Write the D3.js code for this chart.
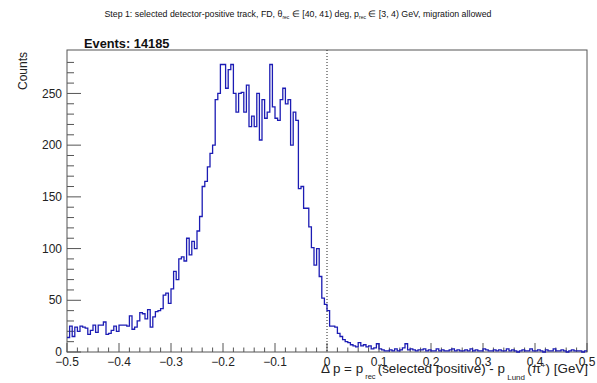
<!DOCTYPE html>
<html>
<head>
<meta charset="utf-8">
<script src="https://cdn.jsdelivr.net/npm/d3@7"></script>
<style>
  body { margin: 0; background: #fff; }
  svg { display: block; font-family: 'Liberation Sans', Arial, Helvetica, sans-serif; }
</style>
</head>
<body>
<div id="chart"></div>
<script>
// histogram binning: 200 bins from -0.5 to 0.5 GeV
const xMin = -0.5;
const xMax = 0.5;
const nBins = 200;

// counts per bin
const countsLeftTail = [14, 25, 15, 24, 20, 25, 24, 23, 17, 21, 26, 19, 26, 26, 29, 17, 18, 21, 25, 20,
  26, 26, 26, 25, 35, 22, 24, 30, 38, 37, 32, 41, 24, 34, 39, 40, 42, 55, 57, 47, 61];
const countsRise = [78, 70, 90, 92, 88, 110, 94, 107, 100, 117, 131, 160, 165, 179, 192, 200, 244, 250,
  278, 278, 255, 273, 278, 250, 232, 250, 251, 232, 258, 218, 228, 218, 250];
const countsPeak = [205, 244, 226, 232, 278, 237, 226, 224, 244, 255, 240, 244, 200, 232, 224, 158, 160, 139, 139];
const countsFall = [121, 101, 84, 100, 73, 52, 46, 40, 25, 25, 24, 18, 15, 12, 10, 9, 7, 6, 5, 9,
  6, 7, 5, 6, 3, 4, 8, 3];
const countsRightTail = [2, 1, 1, 2, 1, 3, 1, 2, 4, 8, 2, 3, 2, 1, 2, 2, 3, 1, 2, 1,
  1, 3, 1, 2, 1, 1, 2, 3, 1, 2, 1, 1, 2, 1, 3, 1, 2, 1, 1, 3,
  2, 1, 1, 2, 1, 2, 1, 1, 3, 1, 2, 1, 0, 1, 2, 1, 1, 3, 1, 1,
  2, 1, 0, 2, 1, 1, 3, 1, 1, 2, 1, 0, 1, 2, 1, 1, 1, 0, 1];

const counts = [].concat(countsLeftTail, countsRise, countsPeak, countsFall, countsRightTail);

const xTicksMajor = [-0.5, -0.4, -0.3, -0.2, -0.1, 0, 0.1, 0.2, 0.3, 0.4, 0.5];
const yTicksMajor = [0, 50, 100, 150, 200, 250];
const yMax = 292;
const eventsLabel = 'Events: 14185';

const width = 597;
const height = 383;
const margin = { top: 50, right: 10, bottom: 31, left: 67 };

const svg = d3.select('#chart').append('svg')
  .attr('width', width)
  .attr('height', height);

const x = d3.scaleLinear().domain([xMin, xMax]).range([margin.left, width - margin.right]);
const y = d3.scaleLinear().domain([0, yMax]).range([height - margin.bottom, margin.top]);

const frameColor = '#555';
const binW = (xMax - xMin) / nBins;

// title (centred on the pad)
const title = svg.append('text')
  .attr('x', 0)
  .attr('y', 17)
  .style('font-size', '8.8px')
  .attr('fill', '#111');
title.append('tspan').text('Step 1: selected detector-positive track, FD, θ');
title.append('tspan').attr('dy', 2).style('font-size', '5px').text('rec');
title.append('tspan').attr('dy', -2).text(' ∈ [40, 41) deg, p');
title.append('tspan').attr('dy', 2).style('font-size', '5px').text('rec');
title.append('tspan').attr('dy', -2).text(' ∈ [3, 4) GeV, migration allowed');
const tb = title.node().getBBox();
title.attr('x', 298 - tb.width / 2);

// frame
svg.append('rect')
  .attr('x', x(xMin))
  .attr('y', y(yMax))
  .attr('width', x(xMax) - x(xMin))
  .attr('height', y(0) - y(yMax))
  .attr('fill', 'none')
  .attr('stroke', frameColor)
  .attr('stroke-width', 1);

// x axis ticks (ROOT style, inward)
const xMinor = d3.range(0, 51).map(k => xMin + k * 0.02);
svg.append('g')
  .selectAll('line')
  .data(xMinor)
  .join('line')
  .attr('x1', d => x(d))
  .attr('x2', d => x(d))
  .attr('y1', y(0))
  .attr('y2', (d, k) => y(0) - (k % 5 === 0 ? 9 : 4.5))
  .attr('stroke', frameColor);

svg.append('g')
  .selectAll('text')
  .data(xTicksMajor)
  .join('text')
  .attr('x', d => x(d))
  .attr('y', 366)
  .attr('text-anchor', 'middle')
  .style('font-size', '12px')
  .attr('fill', '#222')
  .text(d => (d === 0 ? '0' : d3.format('.1f')(d).replace('-', '−')));

// y axis ticks
const yMinor = d3.range(0, 29).map(k => k * 10);
svg.append('g')
  .selectAll('line')
  .data(yMinor)
  .join('line')
  .attr('x1', x(xMin))
  .attr('x2', (d, k) => x(xMin) + (k % 5 === 0 ? 14 : 7))
  .attr('y1', d => y(d))
  .attr('y2', d => y(d))
  .attr('stroke', frameColor);

svg.append('g')
  .selectAll('text')
  .data(yTicksMajor)
  .join('text')
  .attr('x', 62)
  .attr('y', d => y(d))
  .attr('dy', '0.35em')
  .attr('text-anchor', 'end')
  .style('font-size', '12px')
  .attr('fill', '#222')
  .text(d => d);

// axis titles
svg.append('text')
  .attr('transform', `translate(27,${y(yMax) + 2}) rotate(-90)`)
  .attr('text-anchor', 'end')
  .style('font-size', '12px')
  .attr('fill', '#222')
  .text('Counts');

const xTitle = svg.append('text')
  .attr('x', 588)
  .attr('y', 373)
  .attr('text-anchor', 'end')
  .style('font-size', '13.4px')
  .attr('fill', '#222');
xTitle.append('tspan').text('Δ p = p');
xTitle.append('tspan').attr('dy', 6).style('font-size', '7.5px').text(' rec ');
xTitle.append('tspan').attr('dy', -6).text('(selected positive) - p');
xTitle.append('tspan').attr('dy', 7).style('font-size', '8px').text('  Lund ');
xTitle.append('tspan').attr('dy', -7).text('(π');
xTitle.append('tspan').attr('dy', -5).style('font-size', '8px').text('+');
xTitle.append('tspan').attr('dy', 5).text(') [GeV]');

// dotted line at zero
svg.append('line')
  .attr('x1', x(0))
  .attr('x2', x(0))
  .attr('y1', y(yMax))
  .attr('y2', y(0))
  .attr('stroke', '#222')
  .attr('stroke-width', 1)
  .attr('stroke-dasharray', '1,2');

// histogram outline as steps
const pts = [];
counts.forEach((c, i) => {
  pts.push([xMin + i * binW, c]);
  pts.push([xMin + (i + 1) * binW, c]);
});
const line = d3.line()
  .x(d => x(d[0]))
  .y(d => y(d[1]));

svg.append('path')
  .datum(pts)
  .attr('d', line)
  .attr('fill', 'none')
  .attr('stroke', '#1c1cb4')
  .attr('stroke-width', 1.3)
  .attr('stroke-linejoin', 'miter');

// events label
svg.append('text')
  .attr('x', 84)
  .attr('y', 48)
  .style('font-size', '12.8px')
  .style('font-weight', 'bold')
  .attr('fill', '#111')
  .text(eventsLabel);
</script>
</body>
</html>
